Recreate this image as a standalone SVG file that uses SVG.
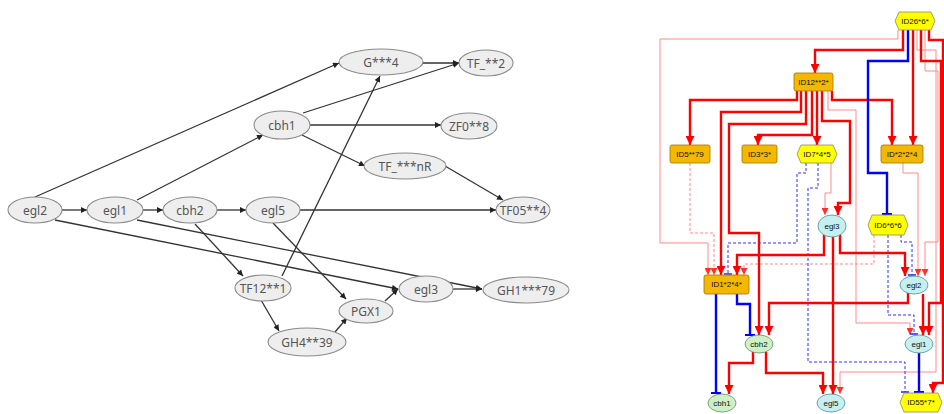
<svg xmlns="http://www.w3.org/2000/svg" width="944" height="414" viewBox="0 0 944 414">
<style>
.ln{fill:#eeeeee;stroke:#8a8a8a;stroke-width:1.1}
.lt{font-family:"Noto Sans","Liberation Sans",sans-serif;font-size:12px;fill:#555;text-anchor:middle;dominant-baseline:central}
.le{fill:none;stroke:#333;stroke-width:1.3;marker-end:url(#ka)}
.rt{font-family:"Liberation Sans","DejaVu Sans",sans-serif;font-size:8px;fill:#111;text-anchor:middle;dominant-baseline:central}
.org{fill:#f4b800;stroke:#a07400;stroke-width:0.8}
.yel{fill:#ffff00;stroke:#8a8a60;stroke-width:0.8}
.cya{fill:#c6f0f0;stroke:#4f8f8f;stroke-width:0.8}
.grn{fill:#cdf0c6;stroke:#5f8f5f;stroke-width:0.8}
.red{fill:none;stroke:#ff0000;stroke-width:2.4;marker-end:url(#ra)}
.pnk{fill:none;stroke:#ff8a8a;stroke-width:1;marker-end:url(#pa)}
.pdsh{fill:none;stroke:#ff8a8a;stroke-width:1;stroke-dasharray:3 2;marker-end:url(#pa)}
.blu{fill:none;stroke:#0000ff;stroke-width:2.4;marker-end:url(#bt)}
.bdsh{fill:none;stroke:#3030ff;stroke-width:1;stroke-dasharray:3 2;marker-end:url(#bdt)}
</style>
<defs>
<marker id="ka" markerUnits="userSpaceOnUse" markerWidth="7" markerHeight="6" viewBox="0 0 10 10" refX="10" refY="5" orient="auto"><path d="M0,0 L10,5 L0,10 z" fill="#222"/></marker>
<marker id="ra" markerUnits="userSpaceOnUse" markerWidth="9" markerHeight="9" viewBox="0 0 10 10" refX="10" refY="5" orient="auto"><path d="M0,0 L10,5 L0,10 z" fill="#ff0000"/></marker>
<marker id="pa" markerUnits="userSpaceOnUse" markerWidth="7" markerHeight="7" viewBox="0 0 10 10" refX="10" refY="5" orient="auto"><path d="M0,0 L10,5 L0,10 z" fill="#ff3030"/></marker>
<marker id="bt" markerUnits="userSpaceOnUse" markerWidth="10" markerHeight="10" viewBox="0 0 10 10" refX="9" refY="5" orient="auto"><path d="M9,0 V10" stroke="#0000ff" stroke-width="2"/></marker>
<marker id="bdt" markerUnits="userSpaceOnUse" markerWidth="8" markerHeight="8" viewBox="0 0 10 10" refX="9" refY="5" orient="auto"><path d="M9,0 V10" stroke="#3030ff" stroke-width="2"/></marker>
</defs>
<rect width="944" height="414" fill="#ffffff"/>

<g id="left-connectors">
<path class="le" d="M35,197 L339,63"/>
<path class="le" d="M62,210 L87,210"/>
<path class="le" d="M143,210 L163,210"/>
<path class="le" d="M217,210 L246,210"/>
<path class="le" d="M137,200 L263,135"/>
<path class="le" d="M300,210 L496,210"/>
<path class="le" d="M310,125 L441,125"/>
<path class="le" d="M303,113 L459,63"/>
<path class="le" d="M423,63 L459,63"/>
<path class="le" d="M302,135 L365,166"/>
<path class="le" d="M445,166 L503,200"/>
<path class="le" d="M282,276 L380,76"/>
<path class="le" d="M195,224 L243,276"/>
<path class="le" d="M55,220 L398,289"/>
<path class="le" d="M137,220 L482,289"/>
<path class="le" d="M453,289 L482,289"/>
<path class="le" d="M273,223 L346,299"/>
<path class="le" d="M261,300 L279,331"/>
<path class="le" d="M335,332 L347,318"/>
<path class="le" d="M385,301 L398,289"/>
</g>

<g id="egl2-l"><ellipse class="ln" cx="35" cy="210" rx="27" ry="13"/><text class="lt" x="35" y="210">egl2</text></g>
<g id="egl1-l"><ellipse class="ln" cx="115" cy="210" rx="28" ry="13"/><text class="lt" x="115" y="210">egl1</text></g>
<g id="cbh2-l"><ellipse class="ln" cx="190" cy="210" rx="27" ry="13"/><text class="lt" x="190" y="210">cbh2</text></g>
<g id="egl5-l"><ellipse class="ln" cx="273" cy="210" rx="27" ry="13"/><text class="lt" x="273" y="210">egl5</text></g>
<g id="cbh1-l"><ellipse class="ln" cx="282" cy="125" rx="28" ry="14"/><text class="lt" x="282" y="125">cbh1</text></g>
<g id="G4-l"><ellipse class="ln" cx="381" cy="62" rx="42" ry="13"/><text class="lt" x="381" y="62">G***4</text></g>
<g id="TF2-l"><ellipse class="ln" cx="486" cy="63" rx="27" ry="13"/><text class="lt" x="486" y="63">TF_**2</text></g>
<g id="ZF08-l"><ellipse class="ln" cx="469" cy="126" rx="28" ry="13"/><text class="lt" x="469" y="126">ZF0**8</text></g>
<g id="TFnR-l"><ellipse class="ln" cx="405" cy="166" rx="41" ry="13"/><text class="lt" x="405" y="166">TF_***nR</text></g>
<g id="TF054-l"><ellipse class="ln" cx="523" cy="210" rx="27" ry="13"/><text class="lt" x="523" y="210">TF05**4</text></g>
<g id="TF121-l"><ellipse class="ln" cx="263" cy="288" rx="28" ry="13"/><text class="lt" x="263" y="288">TF12**1</text></g>
<g id="PGX1-l"><ellipse class="ln" cx="366" cy="311" rx="27" ry="12"/><text class="lt" x="366" y="311">PGX1</text></g>
<g id="egl3-l"><ellipse class="ln" cx="426" cy="289" rx="27" ry="13"/><text class="lt" x="426" y="289">egl3</text></g>
<g id="GH179-l"><ellipse class="ln" cx="526" cy="290" rx="43" ry="13"/><text class="lt" x="526" y="290">GH1***79</text></g>
<g id="GH439-l"><ellipse class="ln" cx="307" cy="342" rx="39" ry="14"/><text class="lt" x="307" y="342">GH4**39</text></g>

<g id="right-connectors">
<path class="pnk" d="M898,30 V39 H660 V243 H708 V275"/>
<path class="pnk" d="M828,91 V110 H856 V323 H910 V335"/>
<path class="pnk" d="M831,163 V193 H825 V215"/>
<path class="pnk" d="M903,163 V173 H918 V276"/>
<path class="pnk" d="M925,30 V71 H938 V242 H925 V276"/>
<path class="pnk" d="M917,30 V50 H936 V372 H840 V394"/>
<path class="pdsh" d="M690,163 V233 H714 V275"/>
<path class="pdsh" d="M874,235 V264 H744 V275"/>
<path class="bdsh" d="M806,163 V173 H797 V243 H728 V274"/>
<path class="bdsh" d="M818,163 V188 H808 V362 H905 V392"/>
<path class="bdsh" d="M901,235 V242 H912 V275"/>
<path class="bdsh" d="M888,235 V315 H914 V334"/>
<path class="red" d="M903,30 V50 H815 V73"/>
<path class="red" d="M913,30 V145"/>
<path class="red" d="M797,91 V100 H690 V145"/>
<path class="red" d="M801,91 V112 H721 V275"/>
<path class="red" d="M806,91 V124 H729 V233 H759 V335"/>
<path class="red" d="M812,91 V135 H758 V145"/>
<path class="red" d="M817,91 V145"/>
<path class="red" d="M822,91 V121 H850 V203 H838 V215"/>
<path class="red" d="M832,91 V100 H892 V145"/>
<path class="red" d="M824,235 V255 H737 V275"/>
<path class="red" d="M833,237 V394"/>
<path class="red" d="M840,235 V253 H905 V276"/>
<path class="red" d="M908,293 V303 H769 V335"/>
<path class="red" d="M923,294 V335"/>
<path class="red" d="M753,352 V363 H729 V394"/>
<path class="red" d="M766,352 V373 H823 V394"/>
<path class="red" d="M921,30 V61 H941 V303 H929 V335"/>
<path class="red" d="M929,30 V40 H943 V383 H933 V393"/>
<path class="blu" d="M908,30 V61 H868 V173 H887 V214"/>
<path class="blu" d="M716,294 V393"/>
<path class="blu" d="M737,294 V304 H750 V335"/>
<path class="blu" d="M919,353 V392"/>
</g>

<g id="ID26"><polygon class="yel" points="899,12 931,12 935,21 931,30 899,30 895,21"/><text class="rt" x="915" y="21">ID26*6*</text></g>
<g id="ID12"><rect class="org" x="794" y="73" width="39" height="18" rx="2"/><text class="rt" x="813.5" y="82">ID12**2*</text></g>
<g id="ID5"><rect class="org" x="670" y="145" width="40" height="18" rx="2"/><text class="rt" x="690" y="154">ID5**79</text></g>
<g id="ID3"><rect class="org" x="742" y="145" width="35" height="18" rx="2"/><text class="rt" x="759.5" y="154">ID3*3*</text></g>
<g id="ID7"><polygon class="yel" points="801,145 833,145 837,154 833,163 801,163 797,154"/><text class="rt" x="817" y="154">ID7*4*5</text></g>
<g id="ID224"><rect class="org" x="881" y="145" width="42" height="18" rx="2"/><text class="rt" x="902" y="154">ID*2*2*4</text></g>
<g id="egl3-r"><ellipse class="cya" cx="832" cy="226" rx="14" ry="11"/><text class="rt" x="832" y="226">egl3</text></g>
<g id="ID6"><polygon class="yel" points="872,215 904,215 908,225 904,235 872,235 868,225"/><text class="rt" x="888" y="225">ID6*6*6</text></g>
<g id="ID124"><rect class="org" x="704" y="275" width="45" height="19" rx="2"/><text class="rt" x="726.5" y="284.5">ID1*2*4*</text></g>
<g id="egl2-r"><ellipse class="cya" cx="914" cy="285" rx="14" ry="9"/><text class="rt" x="914" y="285">egl2</text></g>
<g id="cbh2-r"><ellipse class="grn" cx="759" cy="344" rx="14" ry="9"/><text class="rt" x="759" y="344">cbh2</text></g>
<g id="egl1-r"><ellipse class="cya" cx="919" cy="344" rx="14" ry="9"/><text class="rt" x="919" y="344">egl1</text></g>
<g id="cbh1-r"><ellipse class="grn" cx="722" cy="403" rx="14" ry="9"/><text class="rt" x="722" y="403">cbh1</text></g>
<g id="egl5-r"><ellipse class="cya" cx="831" cy="403" rx="14" ry="9"/><text class="rt" x="831" y="403">egl5</text></g>
<g id="ID55"><polygon class="yel" points="904,393 938,393 942,402.5 938,412 904,412 900,402.5"/><text class="rt" x="921" y="402.5">ID55*7*</text></g>
</svg>
